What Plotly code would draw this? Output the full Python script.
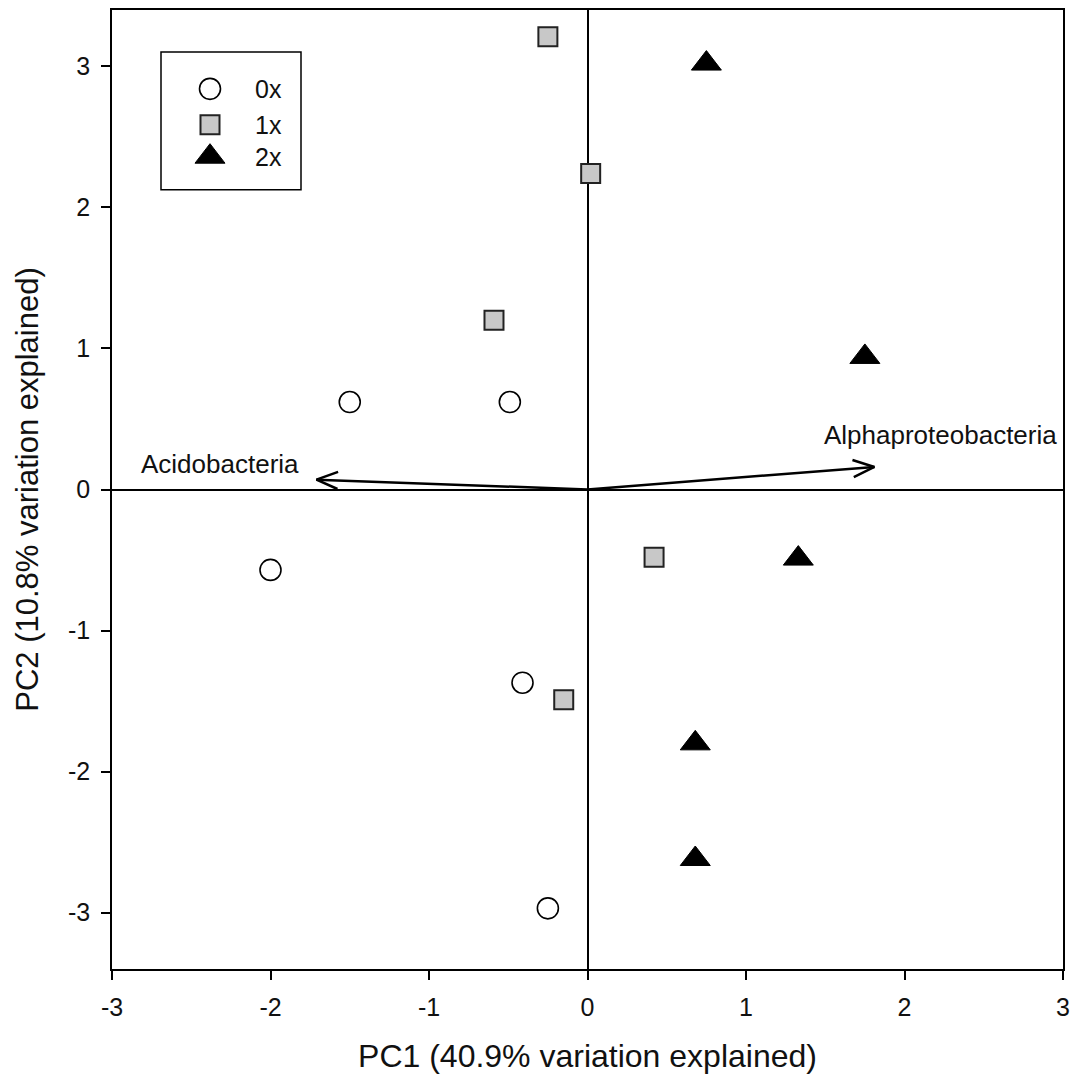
import numpy as np
import plotly.graph_objects as go

# ---- data ----
groups = ["0x", "1x", "2x"]
pc1_0x = [-1.50, -0.49, -2.00, -0.41, -0.25]
pc2_0x = [0.62, 0.62, -0.57, -1.37, -2.97]
pc1_1x = [-0.25, 0.02, -0.59, 0.42, -0.15]
pc2_1x = [3.21, 2.24, 1.20, -0.48, -1.49]
pc1_2x = [0.75, 1.75, 1.33, 0.68, 0.68]
pc2_2x = [3.02, 0.94, -0.49, -1.80, -2.62]

vector_names = ["Acidobacteria", "Alphaproteobacteria"]
vector_pc1 = [-1.71, 1.81]
vector_pc2 = [0.07, 0.16]
label_pc1 = [-2.32, 2.23]
label_pc2 = [0.18, 0.39]

x_ticks = [-3, -2, -1, 0, 1, 2, 3]
y_ticks = [-3, -2, -1, 0, 1, 2, 3]
x_title = "PC1 (40.9% variation explained)"
y_title = "PC2 (10.8% variation explained)"

# ---- layout constants ----
W, H = 1079, 1088
ML, MR, MT, MB = 112, 16, 8, 119
XR = [-3, 3]
YR = [-3.4, 3.4]
FONT = "Liberation Sans, Arial, sans-serif"
TXT = "#111111"

plot_w = W - ML - MR
plot_h = H - MT - MB
sx = plot_w / (XR[1] - XR[0])
sy = plot_h / (YR[1] - YR[0])

# marker styles per group
styles = [
    dict(symbol="circle", size=21, color="white", line=dict(color="black", width=1.6)),
    dict(symbol="square", size=19, color="#c8c8c8", line=dict(color="#222222", width=2)),
    dict(symbol="triangle-up", size=26, color="black", line=dict(color="black", width=1)),
]

fig = go.Figure()

# ---- loading vectors (arrows) ----
head_len = 23.0
head_ang = np.radians(22)
ax_x, ax_y = [], []
for vx, vy in zip(vector_pc1, vector_pc2):
    px, py = vx * sx, vy * sy
    ang = np.arctan2(py, px)
    b1 = (px - head_len * np.cos(ang + head_ang), py - head_len * np.sin(ang + head_ang))
    b2 = (px - head_len * np.cos(ang - head_ang), py - head_len * np.sin(ang - head_ang))
    ax_x += [0, vx, None, b1[0] / sx, vx, b2[0] / sx, None]
    ax_y += [0, vy, None, b1[1] / sy, vy, b2[1] / sy, None]

fig.add_trace(go.Scatter(x=ax_x, y=ax_y, mode="lines",
                         line=dict(color="black", width=2.5),
                         showlegend=False, hoverinfo="skip"))

# ---- samples ----
for name, xs, ys, st in zip(groups, [pc1_0x, pc1_1x, pc1_2x],
                            [pc2_0x, pc2_1x, pc2_2x], styles):
    fig.add_trace(go.Scatter(x=xs, y=ys, mode="markers", name=name,
                             marker=st, showlegend=False))

# ---- vector labels ----
for name, lx, ly in zip(vector_names, label_pc1, label_pc2):
    fig.add_annotation(x=lx, y=ly, text=name, showarrow=False,
                       xanchor="center", yanchor="middle",
                       font=dict(family=FONT, size=26, color=TXT))

# ---- manual legend (overlay axes in pixel units of the plot area) ----
leg_box = (161, 50, 301, 188)          # page pixels: x0, y0, x1, y1
leg_sym_x = 210
leg_txt_x = 253
leg_rows_y = [87, 123, 155]
for name, st, ry in zip(groups, styles, leg_rows_y):
    fig.add_trace(go.Scatter(x=[leg_sym_x - ML], y=[H - MB - ry], mode="markers",
                             marker=st, xaxis="x2", yaxis="y2",
                             showlegend=False, hoverinfo="skip"))
    fig.add_annotation(x=leg_txt_x - ML, y=H - MB - ry, xref="x2", yref="y2",
                       text=name, showarrow=False, xanchor="left", yanchor="middle",
                       font=dict(family=FONT, size=25, color=TXT))
fig.add_shape(type="rect", xref="x2", yref="y2",
              x0=leg_box[0] - ML, x1=leg_box[2] - ML,
              y0=H - MB - leg_box[1], y1=H - MB - leg_box[3],
              line=dict(color="black", width=1.5), fillcolor="rgba(0,0,0,0)")

axis_common = dict(
    showgrid=False,
    showline=True, linecolor="black", linewidth=1.5, mirror=True,
    ticks="outside", ticklen=9, tickwidth=1.5, tickcolor="black",
    zeroline=True, zerolinecolor="black", zerolinewidth=1.5,
    tickfont=dict(family=FONT, size=25, color=TXT),
    ticklabelstandoff=6,
)

fig.update_layout(
    width=W, height=H,
    margin=dict(l=ML, r=MR, t=MT, b=MB),
    paper_bgcolor="white", plot_bgcolor="white",
    font=dict(family=FONT, color=TXT),
    showlegend=False,
    xaxis=dict(range=XR, tickvals=x_ticks, ticktext=[str(v) for v in x_ticks],
               title=dict(text=x_title, font=dict(family=FONT, size=32), standoff=25),
               **axis_common),
    yaxis=dict(range=YR, tickvals=y_ticks, ticktext=[str(v) for v in y_ticks],
               title=dict(text=y_title, font=dict(family=FONT, size=31), standoff=20),
               **axis_common),
    xaxis2=dict(overlaying="x", range=[0, plot_w], visible=False, fixedrange=True),
    yaxis2=dict(overlaying="y", range=[0, plot_h], visible=False, fixedrange=True),
)

fig.write_html("out.html")
